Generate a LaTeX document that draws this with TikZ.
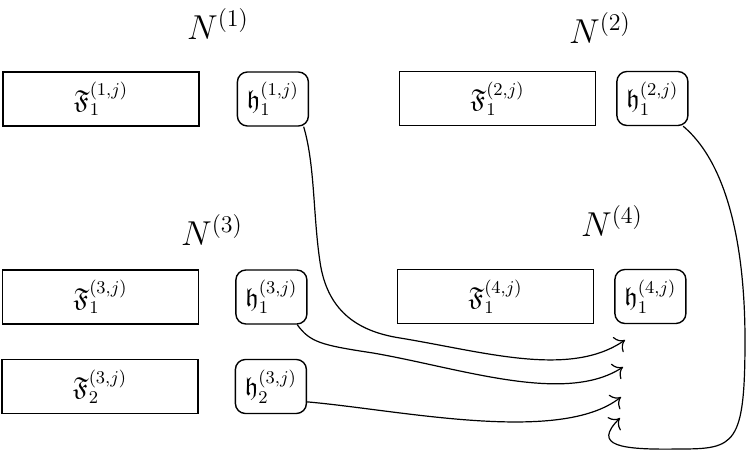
\documentclass[tikz,border=0pt]{standalone}
\usepackage{amsmath,amssymb}
\usetikzlibrary{positioning,arrows.meta}

\tikzset{
  fblock/.style={rectangle,draw,line width=0.7pt,
                 minimum width=98pt,minimum height=27pt,
                 inner sep=0pt,font=\fontsize{13}{15}\selectfont},
  hblock/.style={rectangle,rounded corners=5pt,draw,line width=0.7pt,
                 minimum width=35.5pt,minimum height=27pt,
                 inner sep=0pt,font=\fontsize{13}{15}\selectfont},
  netlabel/.style={font=\LARGE},
  link/.style={-{To[scale=1.5]},semithick},
}

\begin{document}
\begin{tikzpicture}[x=0.5pt,y=-0.5pt]
        \useasboundingbox (0,0) rectangle (746,454);
        % network 1
        \node[netlabel] (n1) at (218,24) {$N^{(1)}$};
        \node[fblock] (f11) at (101,99) {$\mathfrak{F}_1^{(1,j)}$};
        \node[hblock,right=18.5pt of f11] (h11) {$\mathfrak{h}_1^{(1,j)}$};
        % network 2
        \node[netlabel] (n2) at (600,28) {$N^{(2)}$};
        \node[fblock] (f12) at (497.5,98.5) {$\mathfrak{F}_1^{(2,j)}$};
        \node[hblock,right=10pt of f12] (h12) {$\mathfrak{h}_1^{(2,j)}$};
        % network 3
        \node[netlabel] (n3) at (212,230) {$N^{(3)}$};
        \node[fblock] (f13) at (100.5,297) {$\mathfrak{F}_1^{(3,j)}$};
        \node[hblock,right=18pt of f13] (h13) {$\mathfrak{h}_1^{(3,j)}$};
        \node[fblock] (f23) at (100,386.5) {$\mathfrak{F}_2^{(3,j)}$};
        \node[hblock,right=18pt of f23] (h23) {$\mathfrak{h}_2^{(3,j)}$};
        % network 4
        \node[netlabel] (n4) at (612,221) {$N^{(4)}$};
        \node[fblock] (f14) at (495.5,296.5) {$\mathfrak{F}_1^{(4,j)}$};
        \node[hblock,right=10pt of f14] (h14) {$\mathfrak{h}_1^{(4,j)}$};
        % arrow ends
        \coordinate (t1) at (625,340);
        \coordinate (t2) at (623,367);
        \coordinate (t3) at (621,397);
        \coordinate (t4) at (620,418);
        % links
        \draw[link] (h11.-42) .. controls (315,165) and (313,215) .. (320,262)
                    .. controls (327,309) and (355,331) .. (400,338)
                    .. controls (485,352) and (570,378) .. (t1);
        \draw[link] (h13.-47) .. controls (310,342) and (320,345) .. (373,353)
                    .. controls (460,368) and (565,405) .. (t2);
        \draw[link] (h23.-23) .. controls (400,410) and (560,445) .. (t3);
        \draw[link] (h12.-42) .. controls (735,170) and (745,270) .. (745,340)
                    .. controls (745,445) and (735,449) .. (680,449)
                    .. controls (620,450) and (592,446) .. (t4);
      \end{tikzpicture}
\end{document}
